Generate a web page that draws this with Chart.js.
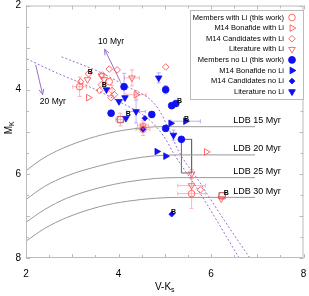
<!DOCTYPE html>
<html>
<head>
<meta charset="utf-8">
<script src="https://cdn.jsdelivr.net/npm/chart.js@4.4.1/dist/chart.umd.min.js"></script>
<style>
  html, body { margin: 0; padding: 0; background: #fff; }
  #wrap { width: 309px; height: 296px; }
</style>
</head>
<body>
<div id="wrap"><canvas id="myChart" width="309" height="296"></canvas></div>
<script>
'use strict';

// ** DATA ** points are [V-Ks, MK, xerr, yerr]

let membersLi = [[3.16, 3.93, 0.15, 0.23], [3.80, 3.81, 0, 0], [4.04, 4.71, 0.1, 0.15], [4.53, 4.94, 0.15, 0.15], [5.58, 6.47, 0.3, 0.35], [6.24, 6.52, 0, 0]];
let bonafideLi = [[3.35, 4.19, 0, 0], [4.38, 4.12, 0.22, 0.1], [5.90, 5.48, 0, 0]];
let candidatesLi = [[5.02, 3.46, 0, 0], [3.97, 3.53, 0, 0], [3.80, 3.51, 0, 0], [3.18, 3.81, 0, 0], [3.35, 3.62, 0, 0], [3.65, 3.65, 0, 0], [3.63, 3.88, 0, 0], [3.59, 4.02, 0, 0], [3.86, 4.02, 0, 0.12], [3.91, 4.12, 0, 0], [3.84, 4.19, 0, 0], [5.77, 6.38, 0, 0]];
let literatureLi = [[3.33, 3.76, 0, 0], [3.69, 3.76, 0, 0], [3.63, 3.67, 0, 0], [4.29, 3.72, 0.16, 0.19], [4.53, 4.86, 0.12, 0.12], [5.58, 6.00, 0, 0.1], [5.58, 6.28, 0.3, 0], [6.22, 6.59, 0, 0]];

let membersNoLi = [[4.12, 3.93, 0, 0.32], [5.02, 4.00, 0, 0.1], [5.15, 4.38, 0, 0], [5.24, 4.33, 0, 0], [3.84, 4.56, 0, 0], [4.72, 4.59, 0, 0], [5.02, 4.92, 0, 0], [5.36, 5.18, 0, 0]];
let bonafideNoLi = [[5.13, 4.80, 0, 0], [5.45, 4.75, 0.32, 0], [4.83, 5.47, 0, 0], [5.02, 5.58, 0, 0]];
let candidatesNoLi = [[4.57, 4.68, 0, 0], [4.53, 4.94, 0, 0], [5.15, 6.96, 0, 0]];
let literatureNoLi = [[3.74, 4.00, 0, 0], [4.14, 4.19, 0, 0], [4.01, 4.28, 0, 0], [4.87, 3.72, 0, 0.12], [4.38, 4.52, 0.2, 0.27], [4.16, 4.68, 0, 0], [5.19, 5.08, 0, 0.12]];

let binaryLabels = [[3.39, 3.58], [3.69, 3.88], [4.21, 4.59], [5.32, 4.26], [5.47, 4.71], [6.33, 6.45], [5.19, 6.92]];
let boxedPoints = [[4.04, 4.71], [6.24, 6.52]];

// LDB loci
let ldb15 = [[2, 5.93], [2.3, 5.68], [2.66, 5.46], [3.2, 5.22], [3.8, 5.03], [4.4, 4.92], [4.9, 4.88], [6.95, 4.88]];
let ldb20 = [[2, 6.61], [2.4, 6.30], [2.88, 6.05], [3.59, 5.81], [4.2, 5.66], [4.8, 5.57], [5.3, 5.55], [6.95, 5.55]];
let ldb25 = [[2, 7.15], [2.4, 6.85], [2.88, 6.58], [3.59, 6.33], [4.2, 6.19], [4.8, 6.11], [5.3, 6.09], [6.95, 6.09]];
let ldb30 = [[2, 7.60], [2.4, 7.30], [2.88, 7.04], [3.59, 6.78], [4.2, 6.65], [4.8, 6.58], [5.3, 6.56], [6.95, 6.56]];
let ldbNames = ['LDB 15 Myr', 'LDB 20 Myr', 'LDB 25 Myr', 'LDB 30 Myr'];
let ldbLabelPos = [[6.48, 4.73], [6.48, 5.40], [6.48, 5.95], [6.48, 6.42]];

// isochrones
let iso10 = [[2.77, 3.22], [3.59, 3.58], [4.23, 3.95], [4.66, 4.21], [4.87, 4.47], [5.09, 4.94], [5.30, 5.46], [5.73, 6.16], [6.26, 7.06], [6.84, 8.0]];
let iso20 = [[2.02, 3.27], [2.62, 3.58], [3.37, 3.93], [4.01, 4.28], [4.66, 4.71], [4.98, 5.11], [5.19, 5.51], [5.73, 6.40], [6.61, 8.0]];
let arrow10 = [[4.04, 3.81], [3.70, 3.04]];
let arrow20 = [[2.21, 3.41], [2.36, 4.12]];
let ageLabels = [['10 Myr', 3.84, 2.87], ['20 Myr', 2.58, 4.28]];

let ldbBox = [[5.36, 5.18], [5.58, 5.18], [5.58, 5.98], [5.36, 5.98], [5.36, 5.18]];

// ** STYLE **

const RED = 'rgba(255,80,80,0.85)';
const BLUE = '#1010f0';
const RED_ERR = 'rgba(255,150,150,0.7)';
const BLUE_ERR = 'rgba(150,150,255,0.7)';
const PURPLE = '#9a70c8';
const FONT = '"Liberation Sans", Arial, Helvetica, sans-serif';

function toXY(arr) {
  return arr.map(p => ({ x: p[0], y: p[1], xerr: p[2] || 0, yerr: p[3] || 0 }));
}

function markerSet(label, arr, style, rot, filled, color, radius) {
  return {
    label: label,
    data: toXY(arr),
    pointStyle: style,
    rotation: rot,
    radius: radius,
    borderWidth: filled ? 0.8 : 1,
    borderColor: color,
    backgroundColor: filled ? color : 'rgba(0,0,0,0)',
    errColor: filled ? BLUE_ERR : RED_ERR,
    isMarker: true,
    order: 0
  };
}

function lineSet(arr, color, dash, tension) {
  return {
    data: toXY(arr),
    showLine: true,
    borderColor: color,
    borderWidth: 1,
    borderDash: dash,
    pointRadius: 0,
    tension: tension,
    cubicInterpolationMode: tension ? 'monotone' : 'default',
    order: 10
  };
}

let markerSets = [
  markerSet('Members with Li (this work)', membersLi, 'circle', 0, false, RED, 3.3),
  markerSet('M14 Bonafide with Li', bonafideLi, 'triangle', 90, false, RED, 3.8),
  markerSet('M14 Candidates with Li', candidatesLi, 'rectRot', 0, false, RED, 3.3),
  markerSet('Literature with Li', literatureLi, 'triangle', 180, false, RED, 3.8),
  markerSet('Members no Li (this work)', membersNoLi, 'circle', 0, true, BLUE, 3.4),
  markerSet('M14 Bonafide no Li', bonafideNoLi, 'triangle', 90, true, BLUE, 3.8),
  markerSet('M14 Candidates no Li', candidatesNoLi, 'rectRot', 0, true, BLUE, 2.8),
  markerSet('Literature no Li', literatureNoLi, 'triangle', 180, true, BLUE, 3.8)
];

let otherSets = [
  {
    data: toXY(boxedPoints), pointStyle: 'rect', radius: 4.5, borderWidth: 1,
    borderColor: '#888', backgroundColor: 'rgba(0,0,0,0)', order: 1
  },
  lineSet(ldb15, '#999', [], 0.4),
  lineSet(ldb20, '#999', [], 0.4),
  lineSet(ldb25, '#999', [], 0.4),
  lineSet(ldb30, '#999', [], 0.4),
  lineSet(iso10, PURPLE, [2, 2], 0.4),
  lineSet(iso20, PURPLE, [2, 2], 0.4),
  lineSet(arrow10, PURPLE, [], 0),
  lineSet(arrow20, PURPLE, [], 0),
  lineSet(ldbBox, '#666', [], 0)
];

// ** HELPERS **

function drawMarker(c, style, rot, x, y, r, color, filled) {
  c.save();
  c.translate(x, y);
  c.rotate(rot * Math.PI / 180);
  c.beginPath();
  if (style === 'circle') {
    c.arc(0, 0, r, 0, Math.PI * 2);
  } else if (style === 'triangle') {
    c.moveTo(0, -r);
    c.lineTo(r * 0.866, r * 0.5);
    c.lineTo(-r * 0.866, r * 0.5);
    c.closePath();
  } else {
    c.moveTo(0, -r);
    c.lineTo(r, 0);
    c.lineTo(0, r);
    c.lineTo(-r, 0);
    c.closePath();
  }
  c.lineWidth = 1;
  if (filled) {
    c.fillStyle = color;
    c.fill();
  }
  c.strokeStyle = color;
  c.stroke();
  c.restore();
}

// ** PLUGINS **

const errorBars = {
  id: 'errorBars',
  beforeDatasetsDraw(chart) {
    const c = chart.ctx;
    const xs = chart.scales.x;
    const ys = chart.scales.y;
    c.save();
    c.lineWidth = 1;
    chart.data.datasets.forEach(ds => {
      if (!ds.isMarker) return;
      c.strokeStyle = ds.errColor;
      ds.data.forEach(p => {
        const px = xs.getPixelForValue(p.x);
        const py = ys.getPixelForValue(p.y);
        c.beginPath();
        if (p.xerr) {
          const a = xs.getPixelForValue(p.x - p.xerr);
          const b = xs.getPixelForValue(p.x + p.xerr);
          c.moveTo(a, py); c.lineTo(b, py);
          c.moveTo(a, py - 2); c.lineTo(a, py + 2);
          c.moveTo(b, py - 2); c.lineTo(b, py + 2);
        }
        if (p.yerr) {
          const a = ys.getPixelForValue(p.y - p.yerr);
          const b = ys.getPixelForValue(p.y + p.yerr);
          c.moveTo(px, a); c.lineTo(px, b);
          c.moveTo(px - 2, a); c.lineTo(px + 2, a);
          c.moveTo(px - 2, b); c.lineTo(px + 2, b);
        }
        c.stroke();
      });
    });
    c.restore();
  }
};

const decorations = {
  id: 'decorations',
  afterDraw(chart) {
    const c = chart.ctx;
    const xs = chart.scales.x;
    const ys = chart.scales.y;
    const area = chart.chartArea;
    c.save();

    // frame and inward ticks
    c.strokeStyle = '#bbb';
    c.lineWidth = 1;
    c.strokeRect(area.left + 0.5, area.top + 0.5, area.right - area.left - 1, area.bottom - area.top - 1);
    c.beginPath();
    for (let v = 2; v <= 8.001; v += 0.5) {
      const len = Number.isInteger(v) ? 4 : 3;
      const px = Math.round(xs.getPixelForValue(v)) + 0.5;
      c.moveTo(px, area.bottom); c.lineTo(px, area.bottom - len);
      c.moveTo(px, area.top); c.lineTo(px, area.top + len);
      const py = Math.round(ys.getPixelForValue(v)) + 0.5;
      c.moveTo(area.left, py); c.lineTo(area.left + len, py);
      c.moveTo(area.right, py); c.lineTo(area.right - len, py);
    }
    c.stroke();

    // arrow heads
    c.strokeStyle = PURPLE;
    [arrow10, arrow20].forEach(a => {
      const x0 = xs.getPixelForValue(a[0][0]), y0 = ys.getPixelForValue(a[0][1]);
      const x1 = xs.getPixelForValue(a[1][0]), y1 = ys.getPixelForValue(a[1][1]);
      const ang = Math.atan2(y1 - y0, x1 - x0);
      c.beginPath();
      c.moveTo(x1, y1);
      c.lineTo(x1 - 6 * Math.cos(ang - 0.4), y1 - 6 * Math.sin(ang - 0.4));
      c.moveTo(x1, y1);
      c.lineTo(x1 - 6 * Math.cos(ang + 0.4), y1 - 6 * Math.sin(ang + 0.4));
      c.stroke();
    });

    // text labels
    c.fillStyle = '#000';
    c.textBaseline = 'middle';
    c.font = '9px ' + FONT;
    c.textAlign = 'left';
    ldbNames.forEach((n, i) => {
      c.fillText(n, xs.getPixelForValue(ldbLabelPos[i][0]), ys.getPixelForValue(ldbLabelPos[i][1]));
    });
    c.font = '8.5px ' + FONT;
    c.textAlign = 'center';
    ageLabels.forEach(l => {
      c.fillText(l[0], xs.getPixelForValue(l[1]), ys.getPixelForValue(l[2]));
    });
    c.font = 'bold 7px ' + FONT;
    binaryLabels.forEach(b => {
      c.fillText('B', xs.getPixelForValue(b[0]), ys.getPixelForValue(b[1]));
    });

    // legend
    const lx = 190, ly = 10, lw = 113, lh = 89;
    c.fillStyle = '#fff';
    c.fillRect(lx, ly, lw, lh);
    c.strokeStyle = '#bbb';
    c.strokeRect(lx + 0.5, ly + 0.5, lw, lh);
    c.font = '7.5px ' + FONT;
    c.textAlign = 'right';
    markerSets.forEach((ds, i) => {
      const ry = ly + 7.5 + i * 10.6;
      c.fillStyle = '#000';
      c.fillText(ds.label, lx + 94, ry);
      const filled = ds.backgroundColor !== 'rgba(0,0,0,0)';
      drawMarker(c, ds.pointStyle, ds.rotation, lx + 102, ry, ds.radius, ds.borderColor, filled);
    });

    // axis titles
    c.fillStyle = '#000';
    c.textAlign = 'left';
    c.textBaseline = 'alphabetic';
    c.font = '10px ' + FONT;
    const tx = (area.left + area.right) / 2;
    const w1 = c.measureText('V-K').width;
    c.font = '7px ' + FONT;
    const w2 = c.measureText('s').width;
    let sx = tx - (w1 + w2) / 2;
    c.font = '10px ' + FONT;
    c.fillText('V-K', sx, 290);
    c.font = '7px ' + FONT;
    c.fillText('s', sx + w1, 292);

    c.translate(12, (area.top + area.bottom) / 2 - 4);
    c.rotate(-Math.PI / 2);
    c.font = '10px ' + FONT;
    const m1 = c.measureText('M').width;
    c.font = '7px ' + FONT;
    const m2 = c.measureText('K').width;
    sx = -(m1 + m2) / 2;
    c.font = '10px ' + FONT;
    c.fillText('M', sx, 0);
    c.font = '7px ' + FONT;
    c.fillText('K', sx + m1, 2);
    c.restore();
  }
};

// ** CHART **

const ctx = document.getElementById('myChart');

new Chart(ctx, {
  type: 'scatter',
  data: { datasets: markerSets.concat(otherSets) },
  options: {
    responsive: false,
    devicePixelRatio: 1,
    animation: false,
    layout: { padding: { top: 4, right: 3, left: 0, bottom: 0 } },
    plugins: { legend: { display: false }, tooltip: { enabled: false } },
    scales: {
      x: {
        type: 'linear', min: 2, max: 8,
        grid: { display: true, drawOnChartArea: false, drawTicks: true, tickLength: 10, tickColor: 'rgba(0,0,0,0)' },
        border: { display: false },
        ticks: { stepSize: 2, padding: 0, color: '#000', font: { size: 10, family: FONT } },
        afterFit: s => { s.height = 38; s.paddingLeft = 0; s.paddingRight = 0; }
      },
      y: {
        type: 'linear', min: 2, max: 8, reverse: true,
        grid: { display: true, drawOnChartArea: false, drawTicks: true, tickLength: 5, tickColor: 'rgba(0,0,0,0)' },
        border: { display: false },
        ticks: { stepSize: 2, padding: 0, color: '#000', font: { size: 10, family: FONT } },
        afterFit: s => { s.width = 26; s.paddingTop = 0; s.paddingBottom = 0; }
      }
    }
  },
  plugins: [errorBars, decorations]
});
</script>
</body>
</html>
